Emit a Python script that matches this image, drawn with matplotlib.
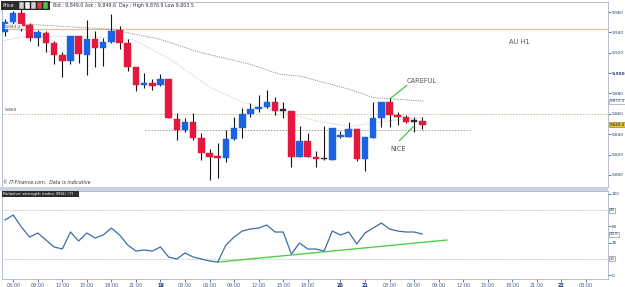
import matplotlib
matplotlib.use("Agg")
import matplotlib.pyplot as plt
from matplotlib.patches import Rectangle

# ---------------- data ----------------
opens = [9940.3, 9950.1, 9959.0, 9947.2, 9934.3, 9939.3, 9929.4, 9917.5, 9911.6, 9936.3,
         9917.5, 9933.3, 9924.4, 9930.4, 9942.2, 9929.4, 9905.7, 9887.9, 9889.9, 9887.9,
         9893.8, 9855.3, 9844.4, 9852.3, 9836.6, 9821.7, 9817.8, 9816.8, 9835.6, 9846.4,
         9860.3, 9865.2, 9867.2, 9872.1, 9863.2, 9863.2, 9817.8, 9833.6, 9817.8, 9815.5,
         9814.8, 9837.5, 9837.5, 9845.4, 9815.8, 9836.6, 9855.5, 9872.1, 9859.3, 9857.3,
         9852.3, 9853.3]
highs = [9953.1, 9961.0, 9964.0, 9949.1, 9942.2, 9941.2, 9931.4, 9920.5, 9936.3, 9936.3,
         9952.1, 9941.2, 9934.3, 9958.0, 9946.2, 9933.3, 9905.7, 9899.8, 9893.8, 9898.8,
         9893.8, 9861.3, 9856.3, 9861.3, 9841.5, 9825.7, 9831.6, 9844.4, 9857.3, 9866.2,
         9871.1, 9879.0, 9883.9, 9877.0, 9872.1, 9863.2, 9848.4, 9841.5, 9823.7, 9848.4,
         9846.4, 9843.5, 9852.3, 9845.4, 9837.5, 9872.1, 9872.1, 9875.1, 9862.2, 9859.3,
         9857.3, 9857.3]
lows = [9936.3, 9948.2, 9941.2, 9931.4, 9926.4, 9920.5, 9908.6, 9895.8, 9908.6, 9909.6,
        9897.8, 9905.7, 9906.7, 9929.4, 9923.5, 9901.7, 9882.9, 9884.9, 9883.9, 9886.9,
        9856.3, 9834.6, 9842.5, 9834.6, 9814.8, 9795.1, 9797.0, 9812.8, 9834.6, 9836.6,
        9857.3, 9862.2, 9866.2, 9859.3, 9856.3, 9807.9, 9817.8, 9817.8, 9807.9, 9814.8,
        9814.8, 9836.6, 9837.5, 9813.8, 9804.0, 9836.6, 9847.4, 9847.4, 9849.4, 9851.4,
        9842.5, 9845.4]
closes = [9950.1, 9959.0, 9946.2, 9934.3, 9940.3, 9929.4, 9917.5, 9911.6, 9936.3, 9918.5,
          9933.3, 9924.4, 9930.4, 9941.2, 9929.4, 9905.7, 9887.9, 9889.9, 9886.9, 9893.8,
          9856.3, 9844.4, 9852.3, 9836.6, 9821.7, 9817.8, 9816.8, 9835.6, 9846.4, 9860.3,
          9865.2, 9867.2, 9872.1, 9863.2, 9863.2, 9817.8, 9833.6, 9817.8, 9815.8, 9815.5,
          9846.4, 9838.5, 9845.4, 9815.8, 9837.5, 9855.5, 9872.1, 9859.3, 9857.3, 9852.3,
          9852.3, 9849.4]

rsi = [67.9, 74.1, 59.3, 46.9, 51.9, 43.2, 34.6, 32.1, 53.1, 42.0,
       51.9, 45.7, 49.4, 58.0, 49.4, 37.0, 29.6, 30.9, 29.6, 34.6,
       22.2, 19.8, 27.2, 22.2, 19.8, 17.3, 16.0, 37.0, 46.9, 54.3,
       56.8, 58.0, 61.7, 53.1, 53.1, 25.9, 39.5, 32.1, 32.1, 29.6,
       54.3, 49.4, 53.1, 38.3, 51.9, 58.0, 64.2, 56.8, 54.3, 53.1,
       53.1, 50.6]

ma_slow_x = [2.4, 12.8, 18.9, 23.8, 30.0, 33.6, 36.1, 42.2, 45.0, 51.3]
ma_slow_y = [9948.2, 9943.2, 9933.3, 9920.5, 9908.6, 9898.8, 9897.0, 9883.9, 9876.0, 9872.4]
ma_fast_x = [-0.6, 2.7, 9.2, 15.6, 20.2, 25.1, 29.1, 33.6, 38.5, 42.2, 45.8, 51.0]
ma_fast_y = [9931.4, 9936.3, 9936.3, 9933.3, 9913.6, 9885.9, 9871.1, 9862.2, 9852.3, 9847.4,
             9852.3, 9856.3]

hline_solid = 9943.2
hline_dot_full = 9860.3
hline_dot_part = 9844.4
hline_dot_part_x = [17.1, 56.8]

careful_x = [47.1, 49.1]
careful_y = [9875.1, 9887.9]
nice_x = [48.2, 49.9]
nice_y = [9833.6, 9847.4]
rsi_trend_x = [26.0, 54.0]
rsi_trend_y = [16.0, 43.2]

tick_pos = [1, 4, 7, 10, 13, 16, 19, 22, 25, 28, 31, 34, 37, 41, 44, 47, 50, 53, 56, 59,
            62, 65, 68, 71]
tick_labels = ["06:00", "09:00", "12:00", "15:00", "18:00", "21:00", "19", "03:00", "06:00",
               "09:00", "12:00", "15:00", "18:00", "20", "21", "03:00", "06:00", "09:00",
               "12:00", "15:00", "18:00", "21:00", "22", "03:00"]
day_labels = ["19", "20", "21", "22"]

price_ticks = [9800, 9820, 9840, 9860, 9880, 9900, 9920, 9940, 9960]
rsi_ticks = [0, 40, 60, 100]
rsi_levels = [80, 20]

# ---------------- figure ----------------
W, H = 625, 287
fig = plt.figure(figsize=(W / 100, H / 100), dpi=100)
fig.patch.set_facecolor("white")

def fx(px):
    return px / W

def fy(py):
    return 1 - py / H

XL = (-0.37, 73.7)
YL = (9788.1, 9969.9)
blue = "#1b63e3"
red = "#e5173d"
axis_col = "#2d3d66"
spine_col = "#aab4c8"
RFS = 3.1  # right-axis font size

ax = fig.add_axes([fx(2), fy(187), fx(606), (185) / H])
ax.set_xlim(*XL)
ax.set_ylim(*YL)
ax.set_facecolor("white")

# horizontal reference lines
ax.axhline(hline_solid, color="#d9c3a6", lw=0.9, zorder=1)
ax.axhline(hline_dot_full, color="#cdb89c", lw=0.7, ls=(0, (1.5, 1.5)), zorder=1)
ax.plot(hline_dot_part_x, [hline_dot_part] * 2, color="#9a9a9a", lw=0.7,
        ls=(0, (1.5, 1.5)), zorder=1)

# moving averages
ax.plot(ma_slow_x, ma_slow_y, color="#8c8c8c", lw=0.6, ls=(0, (1.5, 1.2)), zorder=1)
ax.plot(ma_fast_x, ma_fast_y, color="#c8c8c8", lw=0.6, ls=(0, (1.5, 1.2)), zorder=1)

# candles
for i, (o, h, l, c) in enumerate(zip(opens, highs, lows, closes)):
    if c > o + 0.6:
        col = blue
    elif c < o - 0.6:
        col = red
    else:
        col = "#2a2f45"
    ax.vlines(i, l, h, color="#151515", lw=0.8, zorder=2)
    lo = min(o, c)
    hgt = max(abs(c - o), 1.3)
    ax.add_patch(Rectangle((i - 0.4, lo), 0.8, hgt, facecolor=col,
                           edgecolor=col, lw=0.3, zorder=3))

# annotations
ax.plot(careful_x, careful_y, color="#44c940", lw=0.9, zorder=4)
ax.plot(nice_x, nice_y, color="#44c940", lw=0.9, zorder=4)
ax.text(49.1, 9889.5, "CAREFUL", fontsize=4.8, color="#555555", ha="left", va="bottom")
ax.text(48.0, 9828.5, "NICE", fontsize=4.8, color="#555555", ha="center", va="top")
ax.text(62.8, 9930.5, "AU H1", fontsize=4.8, color="#555555", ha="center", va="center")

# right price axis
ax.yaxis.tick_right()
ax.set_yticks(price_ticks)
ax.set_yticklabels([f"{p // 1000},{p % 1000:03d}" for p in price_ticks])
for lab, p in zip(ax.get_yticklabels(), price_ticks):
    lab.set_fontsize(RFS)
    lab.set_color(axis_col)
    if p == 9900:
        lab.set_fontweight("bold")
ax.tick_params(axis="y", length=2, width=0.5, color=axis_col, pad=0.6)
ax.set_xticks([])
for s in ax.spines.values():
    s.set_color(spine_col)
    s.set_linewidth(0.6)

def yfrac(v):
    return (v - YL[0]) / (YL[1] - YL[0])

# price boxes on right axis
ax.text(1.003, yfrac(9872.4), "9,872.4", transform=ax.transAxes,
        fontsize=2.9, color=axis_col, va="center", ha="left",
        bbox=dict(boxstyle="square,pad=0.12", fc="white", ec="#888888", lw=0.4))
ax.text(1.003, yfrac(closes[-1]), f"{closes[-1]:,.1f}",
        transform=ax.transAxes, fontsize=2.9, color="#222222", va="center", ha="left",
        bbox=dict(boxstyle="square,pad=0.12", fc="#e8c23a", ec="#8a7020", lw=0.4))

# left labels of reference lines
ax.text(0.0, hline_solid + 2.5, "9,943.2", fontsize=3.2, color="#444444", ha="left",
        va="center", bbox=dict(boxstyle="square,pad=0.1", fc="white", ec="#b0b0b0", lw=0.3))
ax.text(0.0, hline_dot_full + 1.5, "9,860", fontsize=3.2, color="#444444", ha="left",
        va="bottom")
ax.text(-0.2, 9790.5, "© IT-Finance.com.  Data is indicative", fontsize=3.4,
        color="#333333", ha="left", va="bottom", style="italic")

# top toolbar & quote line
fig.patches.append(Rectangle((fx(1), fy(10)), fx(49), 9 / H, transform=fig.transFigure,
                             facecolor="#2c2c2c", edgecolor="none", zorder=10))
fig.text(fx(3), fy(5.3), "Price", fontsize=3.4, color="white", va="center", ha="left",
         zorder=11)
for k, cc in enumerate(["#d0d0d0", "#f0f0f0", "#d0d0d0", "#e04040", "#50c050"]):
    fig.patches.append(Rectangle((fx(19 + k * 6), fy(8.5)), fx(4.5), 6 / H,
                                 transform=fig.transFigure, facecolor=cc,
                                 edgecolor="#111111", lw=0.3, zorder=11))
fig.text(fx(53), fy(5), "Bid : 9,849.0 Ask : 9,849.6  Day : High 9,876.9 Low 9,803.5",
         fontsize=3.4, color="#333333", va="center", ha="left")

# panel separator
fig.patches.append(Rectangle((0, fy(191)), fx(608), 4 / H, transform=fig.transFigure,
                             facecolor="#c9d1e0", edgecolor="none", zorder=5))

# ---------------- RSI panel ----------------
RL = (-4.9, 103.7)
ax2 = fig.add_axes([fx(2), fy(279), fx(606), 88 / H])
ax2.set_xlim(*XL)
ax2.set_ylim(*RL)
for lv in rsi_levels:
    ax2.axhline(lv, color="#b5b5b5", lw=0.6, ls=(0, (1.5, 1.5)), zorder=1)
ax2.plot(range(len(rsi)), rsi, color="#3b6ea8", lw=0.9, zorder=3)
ax2.plot(rsi_trend_x, rsi_trend_y, color="#4fd04a", lw=1.0, zorder=2)

ax2.yaxis.tick_right()
ax2.set_yticks(rsi_ticks)
ax2.set_yticklabels([str(v) for v in rsi_ticks])
ax2.tick_params(axis="y", length=2, width=0.5, color=axis_col, pad=0.6, labelsize=RFS,
                labelcolor=axis_col)

def rfrac(v):
    return (v - RL[0]) / (RL[1] - RL[0])

for lv in rsi_levels:
    ax2.text(1.003, rfrac(lv), str(lv), transform=ax2.transAxes, fontsize=2.9,
             color=axis_col, va="center", ha="left",
             bbox=dict(boxstyle="square,pad=0.12", fc="white", ec="#777777", lw=0.4))
ax2.text(1.003, rfrac(rsi[-1]), f"{rsi[-1]:.1f}", transform=ax2.transAxes,
         fontsize=2.9, color=axis_col, va="center", ha="left",
         bbox=dict(boxstyle="square,pad=0.12", fc="white", ec="#777777", lw=0.4))

ax2.set_xticks(tick_pos)
ax2.set_xticklabels(tick_labels)
for lab, t in zip(ax2.get_xticklabels(), tick_labels):
    lab.set_fontsize(3.5)
    if t in day_labels:
        lab.set_fontweight("bold")
        lab.set_color("#1c2f7a")
    else:
        lab.set_color("#4a5a80")
ax2.tick_params(axis="x", length=2, width=0.5, color=axis_col, pad=1)
for s in ax2.spines.values():
    s.set_color(spine_col)
    s.set_linewidth(0.6)

# RSI title box
ax2.text(0.002, 0.985, "Relative strength index (RSI) (7)   ", transform=ax2.transAxes,
         fontsize=3.2, color="white", va="top", ha="left",
         bbox=dict(boxstyle="square,pad=0.25", fc="#2c2c2c", ec="none"))

fig.savefig("out.png", dpi=100, facecolor="white")
